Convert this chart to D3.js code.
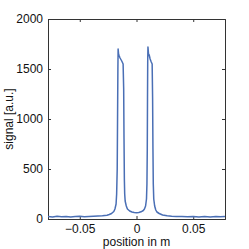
<!DOCTYPE html>
<html><head><meta charset="utf-8">
<script src="https://cdn.jsdelivr.net/npm/d3@7"></script>
<style>body{margin:0;background:#fff}svg{display:block}</style>
</head><body>
<script>
const xTicks = [-0.05, 0, 0.05];
const xTickLabels = ["\u22120.05", "0", "0.05"];
const yTicks = [0, 500, 1000, 1500, 2000];
const posX = [-0.078,-0.074,-0.070,-0.066,-0.062,-0.058,-0.054,-0.050,-0.046,-0.042,-0.038,-0.034,-0.030,-0.026,-0.024,-0.022,-0.020,-0.019,-0.018,-0.0175,-0.017,-0.0167,-0.0164,-0.0162,-0.0158,-0.0152,-0.0145,-0.0130,-0.0118,-0.0113,-0.0110,-0.0107,-0.0104,-0.010,-0.009,-0.008,-0.006,-0.004,-0.002,0,0.002,0.004,0.006,0.007,0.008,0.0088,0.0092,0.0095,0.0097,0.0099,0.0101,0.0106,0.0112,0.0120,0.0130,0.0138,0.0142,0.0145,0.0148,0.0152,0.016,0.017,0.018,0.020,0.023,0.027,0.031,0.035,0.040,0.045,0.050,0.055,0.060,0.065,0.070,0.074,0.078];
const signal = [25,20,28,22,26,20,24,27,22,25,28,30,32,38,45,55,75,100,150,250,500,1000,1500,1700,1650,1630,1610,1580,1550,1300,800,400,250,180,130,100,80,70,65,62,65,72,85,100,130,200,350,700,1200,1600,1720,1650,1640,1600,1570,1550,1200,700,350,200,130,90,70,55,40,32,28,26,24,22,25,21,24,20,26,22,25];

const W = 249, H = 249;
const m = {l:48, t:19, r:24, b:30};
const svg = d3.select("body").append("svg").attr("width", W).attr("height", H);
const x = d3.scaleLinear().domain([-0.078, 0.078]).range([m.l, W - m.r]);
const y = d3.scaleLinear().domain([0, 2000]).range([H - m.b, m.t]);
const font = "Liberation Sans, Arial, sans-serif";

const gx = svg.append("g").attr("transform", `translate(0,${H - m.b})`)
  .call(d3.axisBottom(x).tickValues(xTicks).tickFormat((d,i)=>xTickLabels[i]).tickSize(-3).tickPadding(5));
const gxt = svg.append("g").attr("transform", `translate(0,${m.t})`)
  .call(d3.axisTop(x).tickValues(xTicks).tickFormat("").tickSize(-3));
const gy = svg.append("g").attr("transform", `translate(${m.l},0)`)
  .call(d3.axisLeft(y).tickValues(yTicks).tickFormat(d3.format("d")).tickSize(-3).tickPadding(5));
const gyr = svg.append("g").attr("transform", `translate(${W - m.r},0)`)
  .call(d3.axisRight(y).tickValues(yTicks).tickFormat("").tickSize(-3));
[gx,gxt,gy,gyr].forEach(g=>{
  g.selectAll("path.domain").attr("stroke","#333").attr("stroke-width",1);
  g.selectAll(".tick line").attr("stroke","#333");
  g.selectAll("text").attr("font-family",font).attr("font-size",12).attr("fill","#111");
});

const line = d3.line().x((d,i)=>x(posX[i])).y(d=>y(d));
svg.append("path").datum(signal).attr("d", line)
  .attr("fill","none").attr("stroke","#4a6fb5").attr("stroke-width",1.5).attr("stroke-linejoin","round");

svg.append("text").attr("x", (m.l + W - m.r)/2).attr("y", 246).attr("text-anchor","middle")
  .attr("font-family",font).attr("font-size",12).attr("fill","#111").text("position in m");
svg.append("text").attr("transform", `translate(13,${(m.t + H - m.b)/2}) rotate(-90)`).attr("text-anchor","middle")
  .attr("font-family",font).attr("font-size",12).attr("fill","#111").text("signal [a.u.]");
</script>
</body></html>
